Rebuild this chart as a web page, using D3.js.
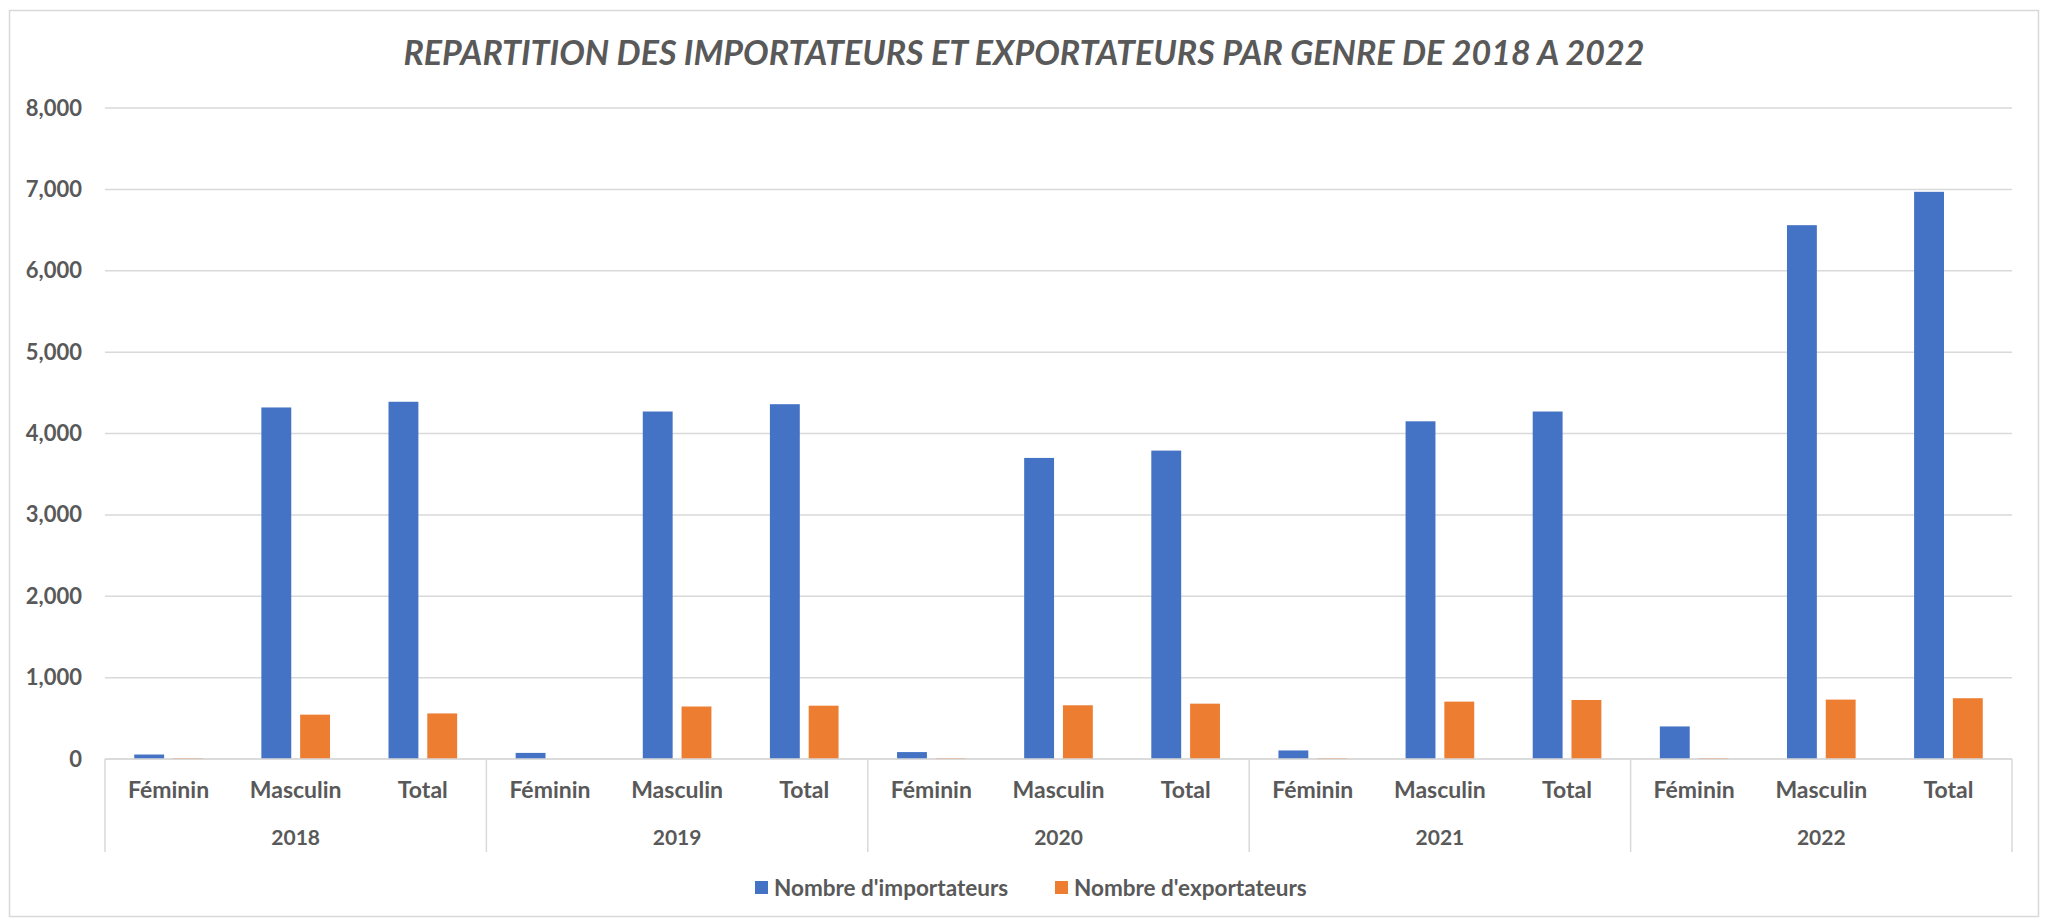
<!DOCTYPE html>
<html><head><meta charset="utf-8">
<script src="https://cdn.jsdelivr.net/npm/d3@7"></script>
<style>body{margin:0;background:#fff}svg text{font-family:Lato,"Open Sans",sans-serif;fill:#595959;font-weight:bold}</style>
</head><body>
<svg id="c" width="2047" height="921"></svg>
<script>
const years = ["2018","2019","2020","2021","2022"];
const genres = ["Féminin","Masculin","Total"];
const importateurs = [55,4320,4390, 75,4270,4360, 85,3700,3790, 105,4150,4270, 400,6560,6970];
const exportateurs = [12,545,560, 0,645,655, 12,660,680, 12,705,725, 12,730,747];
const yTicks = [0,1000,2000,3000,4000,5000,6000,7000,8000];
const seriesNames = ["Nombre d'importateurs","Nombre d'exportateurs"];
const colors = ["#4472C4","#ED7D31"];
const title = "REPARTITION DES IMPORTATEURS ET EXPORTATEURS PAR GENRE DE 2018 A 2022";

const svg = d3.select("#c");
const L=105, R=2012, T=108, B=759;
svg.append("rect").attr("x",9.5).attr("y",10.5).attr("width",2029).attr("height",906)
  .attr("fill","#fff").attr("stroke","#D9D9D9").attr("stroke-width",1.5);

const cats = [];
years.forEach(y=>genres.forEach(g=>cats.push(y+"|"+g)));
const x = d3.scaleBand().domain(cats).range([L,R]).padding(0);
const y = d3.scaleLinear().domain([0,8000]).range([B,T]);
const cw = x.bandwidth();

// gridlines
svg.append("g").selectAll("line").data(yTicks).join("line")
  .attr("x1",L).attr("x2",R).attr("y1",d=>y(d)).attr("y2",d=>y(d))
  .attr("stroke","#D9D9D9").attr("stroke-width",1.5);

// y axis labels
const yAx = svg.append("g").attr("transform",`translate(${L},0)`)
  .call(d3.axisLeft(y).tickValues(yTicks).tickFormat(d3.format(",")).tickSize(0).tickPadding(23));
yAx.select(".domain").remove();
yAx.selectAll("text").style("font-size","22px").attr("fill","#595959").style("font-family","Lato").style("font-weight","bold");

// bars
const bw = cw*0.235, gap = cw*0.07;
const g = svg.append("g");
g.selectAll(".imp").data(importateurs).join("rect")
  .attr("x",(d,i)=>x(cats[i])+cw/2-gap/2-bw).attr("width",bw)
  .attr("y",d=>y(d)).attr("height",d=>B-y(d)).attr("fill",colors[0]);
g.selectAll(".exp").data(exportateurs).join("rect")
  .attr("x",(d,i)=>x(cats[i])+cw/2+gap/2).attr("width",bw)
  .attr("y",d=>y(d)).attr("height",d=>B-y(d)).attr("fill",colors[1]);

// baseline
svg.append("line").attr("x1",L).attr("x2",R).attr("y1",B).attr("y2",B).attr("stroke","#D9D9D9").attr("stroke-width",1.5);

// group separators
const seps = years.map((yy,i)=>x(yy+"|Féminin")).concat([R]);
svg.append("g").selectAll("line").data(seps).join("line")
  .attr("x1",d=>d).attr("x2",d=>d).attr("y1",B).attr("y2",852)
  .attr("stroke","#D9D9D9").attr("stroke-width",1.5);

// category labels
svg.append("g").selectAll("text").data(cats).join("text")
  .attr("x",d=>x(d)+cw/2).attr("y",798).attr("text-anchor","middle")
  .style("font-size","23px").text(d=>d.split("|")[1]);
svg.append("g").selectAll("text").data(years).join("text")
  .attr("x",d=>x(d+"|Masculin")+cw/2).attr("y",845).attr("text-anchor","middle")
  .style("font-size","21px").text(d=>d);

// title
svg.append("text").attr("x",1024).attr("y",65).attr("text-anchor","middle")
  .style("font-size","34px").style("font-style","italic").text(title);

// legend
const leg = svg.append("g");
const lx = [755,1055];
seriesNames.forEach((n,i)=>{
  leg.append("rect").attr("x",lx[i]).attr("y",881).attr("width",13).attr("height",13).attr("fill",colors[i]);
  leg.append("text").attr("x",lx[i]+19).attr("y",896).style("font-size","22.5px").text(n);
});
</script>
</body></html>
